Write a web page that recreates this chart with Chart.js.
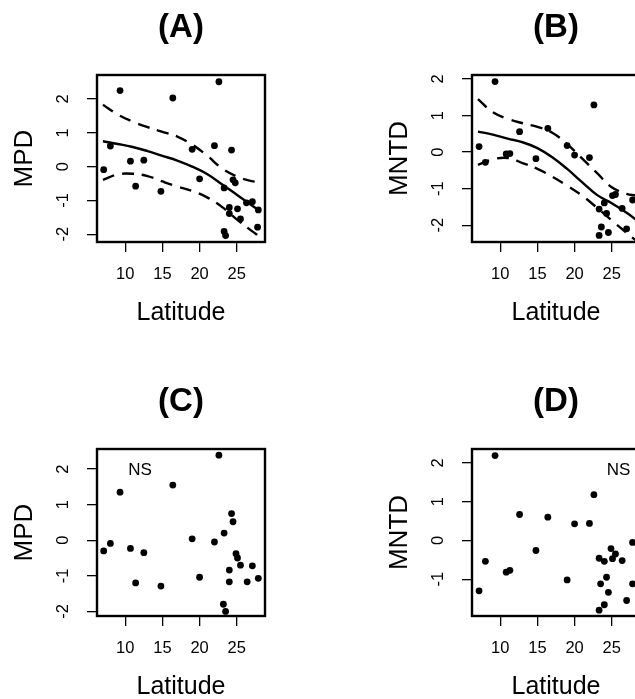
<!DOCTYPE html>
<html><head><meta charset="utf-8">
<script src="https://cdn.jsdelivr.net/npm/chart.js@4.4.1/dist/chart.umd.min.js"></script>
<style>
html,body{margin:0;padding:0;background:#fff;overflow:hidden;width:635px;height:699px;position:relative;}
canvas{position:absolute;}
</style></head><body>
<canvas id="cA" width="362" height="380" style="left:0;top:0"></canvas>
<canvas id="cB" width="362" height="380" style="left:375px;top:0"></canvas>
<canvas id="cC" width="362" height="380" style="left:0;top:374px"></canvas>
<canvas id="cD" width="362" height="380" style="left:375px;top:374px"></canvas>
<script>
// ---------- data ----------
const xTicks = [10, 15, 20, 25];
const yTicksABC = [-2, -1, 0, 1, 2];
const yTicksD = [-1, 0, 1, 2];

const latA = [7.1, 8.0, 9.3, 10.7, 11.4, 12.5, 14.8, 16.4, 19.0, 20.0, 22.0, 22.6, 23.3, 23.3, 23.5, 24.0, 24.0, 24.3, 24.5, 24.8, 25.1, 25.5, 26.3, 27.1, 27.9, 27.8];
const mpdA = [-0.09, 0.61, 2.25, 0.16, -0.58, 0.19, -0.73, 2.03, 0.51, -0.36, 0.62, 2.51, -0.63, -1.92, -2.04, -1.21, -1.39, 0.49, -0.39, -0.48, -1.25, -1.55, -1.07, -1.04, -1.28, -1.79];

const latB = [7.15, 8.0, 9.3, 10.8, 11.3, 12.6, 14.8, 16.4, 19.0, 20.0, 22.0, 22.6, 23.3, 23.3, 23.6, 24.0, 24.3, 24.55, 25.1, 25.5, 26.4, 27.0, 27.8];
const mntdB = [0.15, -0.28, 1.93, -0.05, -0.04, 0.56, -0.18, 0.65, 0.18, -0.08, -0.15, 1.29, -1.56, -2.28, -2.05, -1.39, -1.68, -2.2, -1.19, -1.16, -1.54, -2.10, -1.31];

const latC = [7.1, 8.0, 9.3, 10.7, 11.4, 12.5, 14.8, 16.4, 19.0, 20.0, 22.0, 22.6, 23.3, 23.2, 23.5, 24.0, 24.0, 24.3, 24.5, 24.9, 25.1, 25.5, 26.4, 27.1, 27.9];
const mpdC = [-0.30, -0.09, 1.35, -0.23, -1.20, -0.35, -1.29, 1.55, 0.04, -1.04, -0.05, 2.39, 0.20, -1.80, -2.00, -0.84, -1.17, 0.75, 0.52, -0.38, -0.50, -0.70, -1.17, -0.72, -1.07];

const latD = [7.15, 8.0, 9.3, 10.8, 11.3, 12.6, 14.8, 16.4, 19.0, 20.0, 22.0, 22.6, 23.3, 23.3, 24.0, 24.0, 23.5, 24.3, 24.55, 24.9, 25.1, 25.5, 26.4, 27.0, 27.8, 27.8];
const mntdD = [-1.30, -0.54, 2.19, -0.82, -0.77, 0.67, -0.26, 0.60, -1.02, 0.43, 0.44, 1.18, -0.46, -1.80, -1.66, -0.54, -1.12, -0.95, -1.34, -0.21, -0.47, -0.35, -0.52, -1.55, -0.05, -1.12];

// fitted curves and confidence bands
const curveXA = [7, 9, 11, 13, 15, 17, 19, 21, 23, 25, 27, 28];
const fitA   = [0.75, 0.67, 0.58, 0.46, 0.32, 0.18, 0.0, -0.22, -0.52, -0.83, -1.14, -1.30];
const upperA = [1.83, 1.54, 1.33, 1.17, 1.03, 0.89, 0.65, 0.33, -0.05, -0.29, -0.43, -0.45];
const lowerA = [-0.39, -0.23, -0.21, -0.28, -0.44, -0.59, -0.72, -0.91, -1.19, -1.56, -1.90, -2.06];

const curveXB = [7, 9, 11, 13, 15, 17, 19, 21, 23, 25, 27, 28.2];
const fitB   = [0.56, 0.48, 0.37, 0.27, 0.11, -0.14, -0.46, -0.82, -1.17, -1.40, -1.66, -1.84];
const upperB = [1.45, 1.09, 0.91, 0.79, 0.69, 0.53, 0.22, -0.17, -0.57, -0.96, -1.14, -1.19];
const lowerB = [-0.35, -0.20, -0.16, -0.30, -0.46, -0.67, -0.92, -1.19, -1.52, -1.87, -2.21, -2.41];

// ---------- drawing ----------
const FONT = "'Liberation Sans', Arial, Helvetica, sans-serif";
const pts = (xs, ys) => xs.map((x, i) => ({x: x, y: ys[i]}));

function panel(id, title, yLabel, lat, vals, yMin, yMax, yTicks, curves, ns) {
  const datasets = [{
    data: pts(lat, vals), pointRadius: 3.4, pointHoverRadius: 3.4,
    backgroundColor: '#000', borderWidth: 0, showLine: false
  }];
  if (curves) {
    datasets.push({data: pts(curves.x, curves.fit), showLine: true, borderColor: '#000', borderWidth: 2.4, pointRadius: 0, tension: 0.4, fill: false});
    datasets.push({data: pts(curves.x, curves.up), showLine: true, borderColor: '#000', borderWidth: 2.4, borderDash: [12, 8], pointRadius: 0, tension: 0.4, fill: false});
    datasets.push({data: pts(curves.x, curves.lo), showLine: true, borderColor: '#000', borderWidth: 2.4, borderDash: [12, 8], pointRadius: 0, tension: 0.4, fill: false});
  }
  const boxPlugin = {
    id: 'box' + id,
    afterDraw(chart) {
      const {ctx, chartArea: a} = chart;
      ctx.save();
      ctx.strokeStyle = '#000'; ctx.lineWidth = 2.4;
      ctx.strokeRect(a.left, a.top, a.right - a.left, a.bottom - a.top);
      if (ns) {
        ctx.fillStyle = '#000';
        ctx.font = '17px ' + FONT;
        ctx.textAlign = 'center'; ctx.textBaseline = 'middle';
        ctx.fillText(ns.text, chart.scales.x.getPixelForValue(ns.x), chart.scales.y.getPixelForValue(ns.y));
      }
      ctx.restore();
    }
  };
  new Chart(document.getElementById(id), {
    type: 'scatter',
    data: {datasets: datasets},
    plugins: [boxPlugin],
    options: {
      responsive: false, animation: false, devicePixelRatio: 1,
      layout: {padding: 0},
      plugins: {
        legend: {display: false}, tooltip: {enabled: false},
        title: {display: true, text: title, color: '#000',
          font: {family: FONT, size: 33, weight: 'bold'}, padding: {top: 8, bottom: 27.4}}
      },
      scales: {
        x: {
          type: 'linear', position: 'bottom', min: 6.2, max: 28.8,
          afterBuildTicks: s => { s.ticks = xTicks.map(v => ({value: v})); },
          afterFit: s => { s.height = 138; },
          grid: {display: true, drawOnChartArea: false, drawTicks: true, tickLength: 10, color: '#000', lineWidth: 1.3},
          border: {display: false},
          ticks: {color: '#000', font: {family: FONT, size: 16.5}, padding: 13, autoSkip: false, maxRotation: 0},
          title: {display: true, text: 'Latitude', color: '#000', font: {family: FONT, size: 25}, padding: {top: 0, bottom: 52}}
        },
        y: {
          type: 'linear', position: 'left', min: yMin, max: yMax,
          afterBuildTicks: s => { s.ticks = yTicks.map(v => ({value: v})); },
          afterFit: s => { s.width = 97; },
          grid: {display: true, drawOnChartArea: false, drawTicks: true, tickLength: 10, color: '#000', lineWidth: 1.3},
          border: {display: false},
          ticks: {color: '#000', font: {family: FONT, size: 16.5}, padding: 16, autoSkip: false,
            minRotation: 90, maxRotation: 90, crossAlign: 'center'},
          title: {display: true, text: yLabel, color: '#000', font: {family: FONT, size: 26}, padding: {top: 9, bottom: 0}}
        },
        yR: {
          type: 'linear', position: 'right', display: true,
          afterFit: s => { s.width = 97; },
          grid: {display: false}, border: {display: false}, ticks: {display: false}
        }
      }
    }
  });
}

panel('cA', '(A)', 'MPD', latA, mpdA, -2.23, 2.71, yTicksABC, {x: curveXA, fit: fitA, up: upperA, lo: lowerA}, null);
panel('cB', '(B)', 'MNTD', latB, mntdB, -2.46, 2.11, yTicksABC, {x: curveXB, fit: fitB, up: upperB, lo: lowerB}, null);
panel('cC', '(C)', 'MPD', latC, mpdC, -2.13, 2.565, yTicksABC, null, {text: 'NS', x: 12.0, y: 1.96});
panel('cD', '(D)', 'MNTD', latD, mntdD, -1.95, 2.36, yTicksD, null, {text: 'NS', x: 25.9, y: 1.81});
</script>
</body></html>
